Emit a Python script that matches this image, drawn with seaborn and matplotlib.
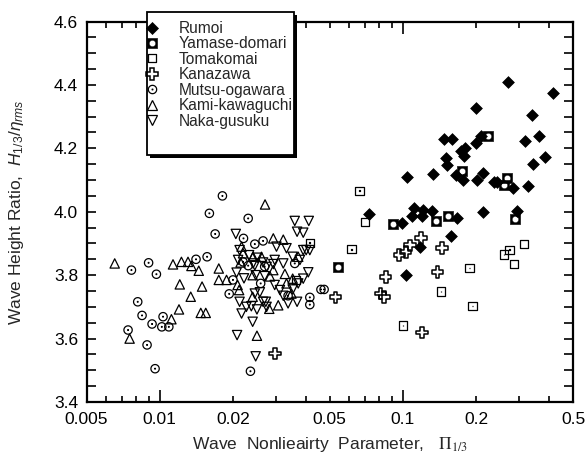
import numpy as np
import pandas as pd
import matplotlib
matplotlib.use("Agg")
import matplotlib.pyplot as plt
import seaborn as sns
from matplotlib.lines import Line2D
from matplotlib.patches import Rectangle
from matplotlib.path import Path
from matplotlib.markers import MarkerStyle
from matplotlib.ticker import FixedLocator, FuncFormatter, MultipleLocator

# ---------------- data ----------------
rumoi_x = [0.413, 0.270, 0.200, 0.340, 0.364, 0.318, 0.210, 0.1475, 0.159, 0.200, 0.180, 0.173,
           0.179, 0.150, 0.151, 0.383, 0.344, 0.1036, 0.133, 0.165, 0.177, 0.214, 0.2016, 0.2375,
           0.243, 0.284, 0.328, 0.111, 0.1086, 0.1205, 0.1195, 0.131, 0.0991, 0.166, 0.213, 0.294,
           0.157, 0.117, 0.1032, 0.0722]
rumoi_y = [4.373, 4.410, 4.328, 4.305, 4.239, 4.224, 4.240, 4.228, 4.228, 4.216, 4.202, 4.191,
           4.176, 4.168, 4.147, 4.172, 4.150, 4.110, 4.118, 4.115, 4.100, 4.123, 4.100, 4.095,
           4.093, 4.074, 4.081, 4.013, 3.986, 4.005, 3.986, 4.001, 3.965, 3.979, 4.000, 4.003,
           3.924, 3.889, 3.802, 3.992]

yamase_x = [0.2237, 0.1754, 0.267, 0.259, 0.0906, 0.1368, 0.1536, 0.288, 0.0542]
yamase_y = [4.240, 4.129, 4.105, 4.084, 3.960, 3.971, 3.986, 3.977, 3.825]

toma_x = [0.1875, 0.1434, 0.193, 0.1001, 0.2604, 0.274, 0.3147, 0.286, 0.0661, 0.0698, 0.0615,
          0.0414, 0.0363]
toma_y = [3.823, 3.748, 3.703, 3.641, 3.866, 3.880, 3.898, 3.835, 4.066, 3.968, 3.882,
          3.902, 3.785]

kana_x = [0.0297, 0.0528, 0.0808, 0.0839, 0.0849, 0.0967, 0.1026, 0.1069, 0.1186, 0.1447,
          0.1387, 0.1197]
kana_y = [3.553, 3.730, 3.742, 3.731, 3.795, 3.863, 3.873, 3.894, 3.918, 3.885,
          3.810, 3.619]

mutsu_x = [0.0181, 0.0160, 0.0231, 0.0169, 0.0221, 0.0246, 0.0266, 0.0141, 0.01566, 0.0090,
           0.00765, 0.00969, 0.0200, 0.0193, 0.0260, 0.00812, 0.00846, 0.01032, 0.00930, 0.0102,
           0.0109, 0.00741, 0.00887, 0.00957, 0.0236, 0.0220, 0.0231, 0.0270, 0.0359, 0.0460,
           0.0474, 0.0414, 0.0414, 0.0337]
mutsu_y = [4.050, 3.995, 3.979, 3.930, 3.916, 3.898, 3.908, 3.850, 3.858, 3.839,
           3.816, 3.803, 3.785, 3.741, 3.774, 3.716, 3.673, 3.669, 3.646, 3.637,
           3.637, 3.627, 3.580, 3.505, 3.497, 3.842, 3.830, 3.827, 3.837, 3.755,
           3.755, 3.730, 3.707, 3.735]

kami_x = [0.00653, 0.00752, 0.01134, 0.01228, 0.01307, 0.01350, 0.01447, 0.01209, 0.01493,
          0.01341, 0.01200, 0.01117, 0.01475, 0.01546, 0.01749, 0.01749, 0.01882, 0.0271,
          0.0251, 0.0215, 0.0217, 0.0220, 0.0242, 0.0262, 0.0241, 0.0209, 0.0241, 0.0212,
          0.0293, 0.0322, 0.0371, 0.0284, 0.0307, 0.0282, 0.0332, 0.0327, 0.0293, 0.0348, 0.0352]
kami_y = [3.837, 3.600, 3.834, 3.842, 3.842, 3.829, 3.814, 3.771, 3.764,
          3.732, 3.692, 3.661, 3.681, 3.681, 3.821, 3.785, 3.785, 4.023,
          3.609, 3.840, 3.890, 3.869, 3.858, 3.858, 3.800, 3.769, 3.732, 3.753,
          3.916, 3.912, 3.858, 3.796, 3.705, 3.694, 3.774, 3.804, 3.816, 3.742, 3.789]

naka_x = [0.02055, 0.0213, 0.0233, 0.0210, 0.0242, 0.0246, 0.0275, 0.0207, 0.0222, 0.0248,
          0.0270, 0.0213, 0.0217, 0.0227, 0.0238, 0.0251, 0.0246, 0.0241, 0.0208, 0.0248,
          0.0273, 0.0258, 0.0359, 0.0410, 0.0367, 0.0389, 0.0302, 0.0332, 0.0389, 0.0400,
          0.0352, 0.0377, 0.0414, 0.0297, 0.0322, 0.0293, 0.0408, 0.0389, 0.0297, 0.0371,
          0.0312, 0.0352, 0.0266, 0.0337, 0.0367, 0.0275, 0.0322, 0.0266, 0.0252]
naka_y = [3.930, 3.879, 3.863, 3.848, 3.837, 3.831, 3.826, 3.808, 3.790, 3.800,
          3.797, 3.716, 3.679, 3.700, 3.702, 3.692, 3.742, 3.653, 3.611, 3.544,
          3.716, 3.746, 3.971, 3.971, 3.937, 3.934, 3.890, 3.885, 3.879, 3.879,
          3.858, 3.848, 3.879, 3.848, 3.837, 3.835, 3.809, 3.789, 3.769, 3.774,
          3.753, 3.755, 3.716, 3.711, 3.716, 3.700, 3.735, 3.840, 3.855]

site_labels = ["Rumoi", "Yamase-domari", "Tomakomai", "Kanazawa",
               "Mutsu-ogawara", "Kami-kawaguchi", "Naka-gusuku"]
x_labelled = {0.005: "0.005", 0.01: "0.01", 0.02: "0.02", 0.05: "0.05",
              0.1: "0.1", 0.2: "0.2", 0.5: "0.5"}
y_tick_vals = [3.4, 3.6, 3.8, 4.0, 4.2, 4.4, 4.6]

# ---------------- marker shapes ----------------
def _poly(vx, vy):
    v = np.column_stack([vx, vy])
    v = np.vstack([v, v[:1]])
    codes = [Path.MOVETO] + [Path.LINETO] * (len(vx) - 1) + [Path.CLOSEPOLY]
    return v, codes

def _compound(parts):
    verts, codes = [], []
    for v, c in parts:
        verts.append(v)
        codes += c
    return Path(np.vstack(verts), codes)

_sq = _poly([-0.5, 0.5, 0.5, -0.5], [-0.5, -0.5, 0.5, 0.5])
_dot = _poly([-0.04, 0.04, 0.04, -0.04], [-0.04, -0.04, 0.04, 0.04])
_t = np.linspace(0, 2 * np.pi, 48, endpoint=False)
_circ = _poly(0.5 * np.cos(_t), 0.5 * np.sin(_t))
_hole = _poly(0.31 * np.cos(-_t), 0.31 * np.sin(-_t))

m_yamase = MarkerStyle(_compound([_sq, _hole]))
m_toma = MarkerStyle(_compound([_sq, _dot]))
m_mutsu = MarkerStyle(_compound([_circ, _dot]))

# ---------------- style ----------------
sns.set_theme(style="white")
plt.rcParams["font.family"] = ["Liberation Sans", "DejaVu Sans"]
plt.rcParams["mathtext.fontset"] = "custom"
plt.rcParams["mathtext.rm"] = "Liberation Sans"
plt.rcParams["mathtext.it"] = "Liberation Sans:italic"

fig = plt.figure(figsize=(5.86, 4.57), dpi=100)
W, H = 586, 457
ax = fig.add_axes([86.5 / W, 1 - 402 / H, (573 - 86.5) / W, (402 - 21.5) / H])

def pts(xs, ys, **kw):
    sns.scatterplot(x=xs, y=ys, ax=ax, legend=False, **kw)

pts(naka_x, naka_y, marker="v", s=45, facecolor="none", edgecolor="black", linewidth=0.9, zorder=3)
pts(kami_x, kami_y, marker="^", s=45, facecolor="none", edgecolor="black", linewidth=0.9, zorder=3)
pts(mutsu_x, mutsu_y, marker=m_mutsu, s=36, facecolor="none", edgecolor="black", linewidth=0.9, zorder=3)
pts(kana_x, kana_y, marker="P", s=70, facecolor="none", edgecolor="black", linewidth=1.1, zorder=3)
pts(toma_x, toma_y, marker=m_toma, s=38, facecolor="none", edgecolor="black", linewidth=0.9, zorder=3)
pts(yamase_x, yamase_y, marker=m_yamase, s=55, color="black", edgecolor="black", linewidth=0.3, zorder=4)
pts(rumoi_x, rumoi_y, marker="D", s=36, color="black", edgecolor="black", linewidth=0.5, zorder=5)

ax.set_xscale("log")
ax.set_xlim(0.005, 0.5)
ax.set_ylim(3.4, 4.6)

ax.xaxis.set_major_locator(FixedLocator([0.01, 0.1]))
ax.xaxis.set_minor_locator(FixedLocator([0.005, 0.006, 0.007, 0.008, 0.009, 0.02, 0.03, 0.04,
                                         0.05, 0.06, 0.07, 0.08, 0.09, 0.2, 0.3, 0.4, 0.5]))
_fmt = FuncFormatter(lambda v, p: next((s for k, s in x_labelled.items()
                                        if abs(np.log10(v) - np.log10(k)) < 1e-6), ""))
ax.xaxis.set_major_formatter(_fmt)
ax.xaxis.set_minor_formatter(_fmt)
ax.yaxis.set_major_locator(FixedLocator(y_tick_vals))
ax.yaxis.set_minor_locator(MultipleLocator(0.05))
ax.yaxis.set_major_formatter(FuncFormatter(lambda v, p: "%.1f" % v))

ax.tick_params(axis="x", which="major", direction="in", top=True, bottom=True,
               length=8.6, width=1.2, labelsize=12.5, pad=7, colors="black")
ax.tick_params(axis="x", which="minor", direction="in", top=True, bottom=True,
               length=4.3, width=1.2, labelsize=12.5, pad=7, colors="black")
ax.tick_params(axis="y", which="both", direction="in", left=True, right=True,
               length=6.5, width=1.2, labelsize=12.5, pad=6, colors="black")

for sp in ax.spines.values():
    sp.set_linewidth(1.6)
    sp.set_color("black")

ax.set_xlabel(r"Wave  Nonlieairty  Parameter,   $\Pi_{1/3}$", fontsize=12.5,
              math_fontfamily="stix", labelpad=6)
ax.set_ylabel(r"Wave Height Ratio,  $H_{1/3}/\eta_{rms}$", fontsize=12.5, labelpad=20)

# ---------------- legend ----------------
def h(m, ms, fc="none", mew=0.9):
    return Line2D([], [], ls="", marker=m, ms=ms, mfc=fc, mec="black", mew=mew)

handles = [
    h("D", 6, "black", 0.5),
    h(m_yamase, 7.4, "black", 0.3),
    h(m_toma, 6.2),
    h("P", 8.3, mew=1.1),
    h(m_mutsu, 6.0),
    h("^", 6.7),
    h("v", 6.7),
]
box = Rectangle((150 / W, 1 - 158 / H), (294 - 147) / W, (155 - 12) / H,
                transform=fig.transFigure, facecolor="black", edgecolor="black", lw=0, zorder=4)
fig.add_artist(box)
box2 = Rectangle((147 / W, 1 - 155 / H), (294 - 147) / W, (155 - 12) / H,
                 transform=fig.transFigure, facecolor="white", edgecolor="black", lw=1.3, zorder=4.5)
fig.add_artist(box2)
fig.legend(handles, site_labels, loc="upper left", bbox_to_anchor=(146 / W, 1 - 21 / H),
           frameon=False, borderpad=0, borderaxespad=0, handlelength=0.8,
           handletextpad=1.3, labelspacing=0.03, fontsize=11.2)

fig.savefig("out.png", dpi=100)
